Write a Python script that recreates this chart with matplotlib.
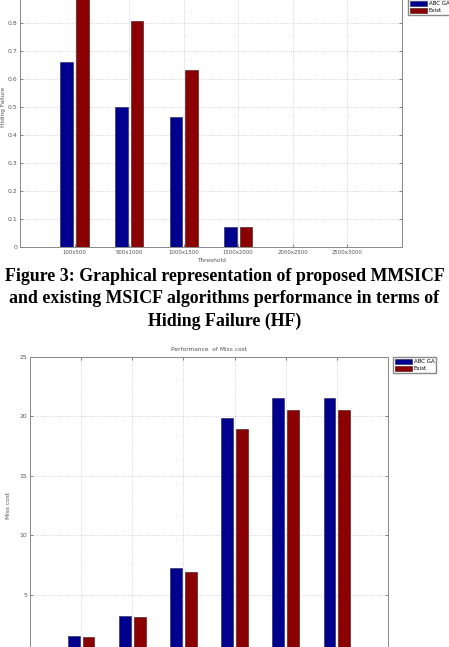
"""Hiding failure and miss cost comparison, ABC GA vs existing."""

import matplotlib.pyplot as plt
import numpy as np

# Data
thresholds = ["100x500", "500x1000", "1000x1500", "1500x2000", "2000x2500", "2500x3000"]
series_names = ["ABC GA", "Exist"]
hf_abc = [0.662, 0.501, 0.463, 0.07, 0.0, 0.0]
hf_exist = [0.92, 0.808, 0.632, 0.07, 0.0, 0.0]
miss_abc = [1.5, 3.2, 7.25, 19.85, 21.5, 21.5]
miss_exist = [1.4, 3.1, 6.9, 18.9, 20.5, 20.5]
# only the ticks whose labels fall inside the cropped page
hf_ticks = [0, 0.1, 0.2, 0.3, 0.4, 0.5, 0.6, 0.7, 0.8]
miss_ticks = [5, 10, 15, 20, 25]
caption = ("Figure 3: Graphical representation of proposed MMSICF\n"
           "and existing MSICF algorithms performance in terms of\n"
           "Hiding Failure (HF)")

BLUE = "#00008f"
RED = "#8b0000"
W = 449
H = 647


def style_axes(ax, yticks, fmt):
  ax.set_xlim(0, 7)
  ax.set_yticks(yticks)
  ax.set_yticklabels([fmt(t) for t in yticks])
  ax.tick_params(direction="in", length=2, width=0.5, labelsize=4.4,
                 colors="#555555", top=True, right=True, pad=2)
  ax.grid(True, linestyle=":", linewidth=0.5, color="#bbbbbb")
  ax.set_axisbelow(True)
  for s in ax.spines.values():
    s.set_color("#888888")
    s.set_linewidth(0.7)


def grouped_bars(ax, a, b):
  x = np.arange(1, len(a) + 1)
  ax.bar(x - 0.145, a, width=0.23, color=BLUE, edgecolor="#222244", linewidth=0.4,
         label=series_names[0])
  ax.bar(x + 0.145, b, width=0.23, color=RED, edgecolor="#331111", linewidth=0.4,
         label=series_names[1])
  return x


fig = plt.figure(figsize=(W / 100, H / 100), dpi=100)

# Top chart: hiding failure (its top part is cut off in the page)
ax1 = fig.add_axes([20 / W, 1 - 247 / H, 382 / W, 280 / H])
x = grouped_bars(ax1, hf_abc, hf_exist)
ax1.set_ylim(0, 1)
style_axes(ax1, hf_ticks, lambda t: f"{t:g}")
ax1.set_xticks(x)
ax1.set_xticklabels(thresholds, fontsize=3.9)
ax1.set_xlabel("Threshold", fontsize=4.2, color="#555555", labelpad=2)
ax1.set_ylabel("Hiding Failure", fontsize=4.2, color="#555555", labelpad=1)
ax1.legend(loc="lower left", bbox_to_anchor=(408 / W, 1 - 15 / H),
           bbox_transform=fig.transFigure, fontsize=4, fancybox=False,
           edgecolor="#888888", framealpha=1, handlelength=3.2, handleheight=1.1,
           labelspacing=0.25, borderpad=0.3, handletextpad=0.2, borderaxespad=0)

# Caption
fig.text(0.5, 1 - 268 / H, caption, ha="center", va="top", fontsize=12.9,
         fontweight="bold", family="Liberation Serif", linespacing=1.4)

# Bottom chart: miss cost (its bottom part is cut off in the page)
ax2 = fig.add_axes([30 / W, 1 - 654 / H, 358 / W, 297.5 / H])
x = grouped_bars(ax2, miss_abc, miss_exist)
ax2.set_ylim(0, 25)
style_axes(ax2, miss_ticks, lambda t: f"{t:d}")
ax2.set_xticks(x)
ax2.set_xticklabels([])
ax2.set_ylabel("Miss cost", fontsize=4.2, color="#555555", labelpad=6)
ax2.set_title("Performance  of Miss cost", fontsize=4.2, color="#555555", pad=4)
ax2.legend(loc="upper left", bbox_to_anchor=(393 / W, 1 - 357 / H),
           bbox_transform=fig.transFigure, fontsize=4, fancybox=False,
           edgecolor="#888888", framealpha=1, handlelength=3.2, handleheight=1.1,
           labelspacing=0.25, borderpad=0.3, handletextpad=0.2, borderaxespad=0)

fig.savefig("out.png", dpi=100)
